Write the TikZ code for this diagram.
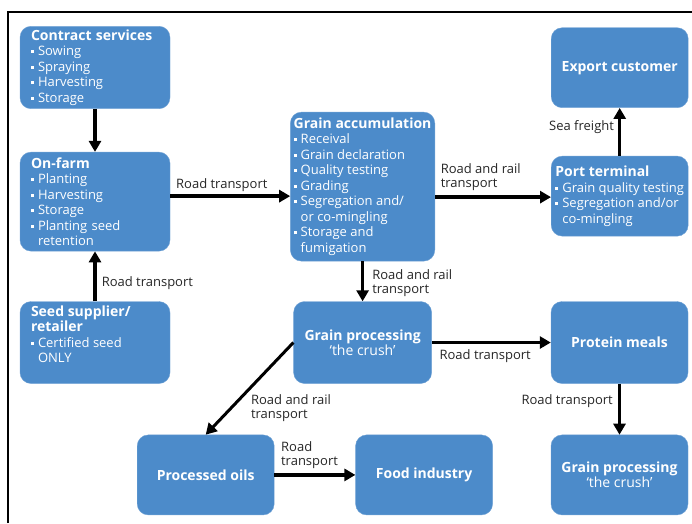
\documentclass[tikz,border=0pt]{standalone}
\usepackage{fontspec}
\setmainfont{Open Sans}
\usetikzlibrary{positioning,arrows.meta}

\definecolor{stageblue}{RGB}{76,139,202}
\newcommand{\bul}{\rule[0.2em]{3pt}{3pt}\hspace{4pt}}
\newcommand{\ind}{\hspace*{7pt}}
\newcommand{\ttl}[1]{{\fontsize{14}{15.5}\selectfont\bfseries #1}}

\begin{document}
\begin{tikzpicture}[x=1pt, y=-1pt,
    stage/.style={draw=stageblue!80!white, fill=stageblue, rounded corners=11pt, text=white,
        minimum width=137pt, minimum height=80pt, align=left,
        font=\fontsize{13}{15.5}\selectfont},
    centrestage/.style={stage, align=center, font=\fontsize{14}{15.5}\selectfont\bfseries},
    flow/.style={line width=3.5pt, -{Triangle[length=11pt,width=12pt]}},
    lbl/.style={font=\fontsize{13}{14}\selectfont, text=black!85, align=left, inner sep=1pt}]

    \useasboundingbox (0,0) rectangle (692,523);
    \draw[line width=2.5pt] (8,523) -- (8,12) -- (692,12);

    % Farm side
    \node[stage, minimum width=150pt, minimum height=81pt, text width=128pt] (contract) at (95,67.5)
        {\ttl{Contract services}\\\bul Sowing\\\bul Spraying\\\bul Harvesting\\\bul Storage};
    \node[stage, minimum width=150pt, minimum height=99pt, text width=128pt, below=43pt of contract] (onfarm)
        {\ttl{On-farm}\\\bul Planting\\\bul Harvesting\\\bul Storage\\\bul Planting seed\\\ind retention};
    \node[stage, minimum width=150pt, minimum height=82pt, below=50pt of onfarm] (seed)
        {\parbox[c][74pt][t]{128pt}{\ttl{Seed supplier/}\\\ttl{retailer}\\\bul Certified seed\\\ind ONLY}};

    % Accumulation and export
    \node[stage, minimum width=143pt, minimum height=149pt, right=120pt of onfarm, yshift=15pt] (accum)
        {\ttl{Grain accumulation}\\\bul Receival\\\bul Grain declaration\\\bul Quality testing\\\bul Grading\\\bul Segregation and/\\\ind or co-mingling\\\bul Storage and\\\ind fumigation};
    \node[stage, right=116pt of accum, yshift=-9.5pt] (port)
        {\ttl{Port terminal}\\\bul Grain quality testing\\\bul Segregation and/or\\\ind co-mingling};
    \node[centrestage, above=48pt of port] (export) {Export customer};

    % Processing
    \node[centrestage, minimum width=138pt, minimum height=82pt, below=40pt of accum] (crush)
        {Grain processing\\{\mdseries `the crush'}};
    \node[centrestage, minimum height=82pt, right=119pt of crush] (meals) {Protein meals};
    \node[centrestage, below=51pt of meals] (crushtwo) {Grain processing\\{\mdseries `the crush'}};
    \node[centrestage, left=58pt of crushtwo] (food) {Food industry};
    \node[centrestage, left=81pt of food] (oils) {Processed oils};

    % Connections
    \draw[flow] (contract) -- (onfarm);
    \draw[flow] (seed) -- node[lbl, right=4pt, pos=0.36] {Road transport} (onfarm);
    \draw[flow] ([yshift=5.5pt]onfarm.east) -- node[lbl, above=2pt, pos=0.43] {Road transport} ([yshift=-9.5pt]accum.west);
    \draw[flow] ([yshift=-10.5pt]accum.east) -- node[lbl, anchor=south west, pos=0, xshift=3pt, yshift=4pt] {Road and rail\\transport} ([yshift=-1pt]port.west);
    \draw[flow] (port) -- node[lbl, left=3pt, pos=0.6] {Sea freight} (export);
    \draw[flow] (accum) -- node[lbl, right=7pt, pos=0.55] {Road and rail\\transport} (crush);
    \draw[flow] (crush) -- node[lbl, anchor=north west, pos=0, xshift=5pt, yshift=-4pt] {Road transport} (meals);
    \draw[flow, line width=3pt] (crush.west) -- node[lbl, anchor=north west, pos=0.5, xshift=-1pt, yshift=-3pt] {Road and rail\\transport} (oils.north);
    \draw[flow] (oils) -- node[lbl, anchor=south west, pos=0, xshift=4pt, yshift=4pt] {Road\\transport} (food);
    \draw[flow] (meals) -- node[lbl, left=4pt, pos=0.35] {Road transport} (crushtwo);

\end{tikzpicture}
\end{document}
